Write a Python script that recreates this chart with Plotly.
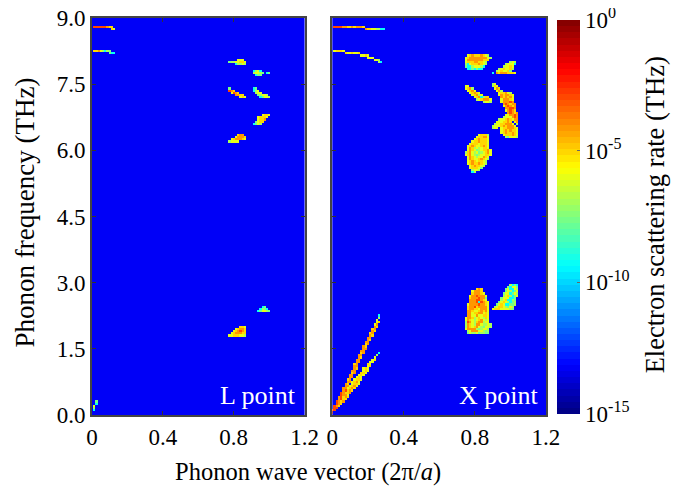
import numpy as np
import plotly.graph_objects as go

# log10 scattering rate levels used by the cell maps below
LEVELS = {"d": -0.5, "r": -2.9, "o": -4.1, "a": -5.0, "y": -5.9, "l": -6.9,
          "g": -7.7, "c": -9.3}
BACKGROUND = -13.3
Q_STEP = 0.0125
F_STEP = 0.05
TICKS_Q = [0, 0.4, 0.8, 1.2]
TICKS_Q_TEXT = ["0", "0.4", "0.8", "1.2"]
TICKS_F = [0, 1.5, 3, 4.5, 6, 7.5, 9]
TICKS_F_TEXT = ["0.0", "1.5", "3.0", "4.5", "6.0", "7.5", "9.0"]
CB_TICKS = [-15, -10, -5, 0]
CB_TEXT = ["10<sup>-15</sup>", "10<sup>-10</sup>", "10<sup>-5</sup>", "10<sup>0</sup>"]

# (first q cell, top f cell, rows of cells from top to bottom)
L_SPOTS = [
    (1, 176, ["rrrrrroaa"]), (9, 175, ["ay"]),
    (1, 165, ["aaoylclg"]), (8, 164, ["gcc"]),
    (62, 161, ["    yyy", "gllyyaay", "   cllyl"]),
    (73, 156, ["clyc", "lyylg cg", " cgg"]),
    (62, 148, ["g", "roa", " yroa", "   ooaa", "     yay"]),
    (73, 148, ["cg", "cly", " lyy", "  glyyl", "   cgyyl"]),
    (73, 136, ["    yaay", "  yaaay", "  yaao", " gyaa", "cgyl"]),
    (62, 127, ["    aoo", "   yoooa", " yaoooay", "lyyyy"]),
    (62, 40, ["     aay", "   yaooa", "  yaoroa", " yaoooaa", "yyaaayyl"]),
    (75, 49, ["  cg", " clgc", "cgyylg"]),
    (1, 6, [" g", " c", "y", "l", "c"]),
]
X_SPOTS = [
    (1, 176, ["rrrrooaaoaoooa"]), (15, 175, ["oaayyllcc"]),
    (1, 165, ["yaaay"]), (6, 164, ["ayyayya"]), (13, 163, ["yyay"]),
    (16, 162, ["yyy"]), (19, 161, ["yyl"]), (21, 160, ["lc"]),
    (60, 163, [" yaoaaaoayl", "yaooooooooyl", "yoooooooaaa", "yaaaooaayl",
               "lcyaaaoayl", "gcclyyylc", " ccgcgcc"]),
    (72, 160, ["        lyl", "      lyyyc", "     lyyay", "   lyayyal",
               "  lyayyag", "c oaoooaaay"]),
    (60, 149, ["yy", "yaol", " yaoy", "  yaoay", "   yaoly", "    yaoclaa",
               "     lyaoooy", "        lyyl"]),
    (72, 136, ["      yl", "     lyyo", "   lyyaoa", "  yyyaaoa", " lyyaaoooy",
               "lyyyaoaoooy", "lyy yaaoooay", "    yaoaoaay", "    yaoaaoay",
               "     yaaaoay", "      lgyyyl"]),
    (71, 150, [" ly", " lay", "  yoa", "   yol", "    yaaoyl", "    yoaooay",
               "     oaoaoy", "     yoooay", "     yoooro", "      oroaoo",
               "      yoroao", "       oorro", "       yoroa", "        oroao",
               "        yooro", "         yoro", "          yoo", "           yo",
               "            l"]),
    (60, 127, ["      yaaal", "     yaaooy", "    yaoaaay", "   yaaoaaay",
               "  yaaayaaay", " yaoayyaoay", " yoalylyaay", " yoayglyaaoy",
               "laoylyglyaoy", "yaoylglyyaay", " yoaylyyoay", " yoayyaoayl",
               " yaoayaayl", " yaoaaoayl", "  yaoaayl", "  yaaayg", "   lyyl",
               "   cl"]),
    (60, 57, ["     aoa", "   yoooa", "   aoooay", "  yooroooy", "  aoooroog",
              "  ooorroay", "  ooorcroay", " yoooorooay", " aooraooooy",
              " aooaayoooy", " ooayyaoaoy", " ooyaaooyay", " ooyyoyyaay",
              "yooalyaylay", "yoaylyaoyly", "lroylaoolyy", "loaylooyllyl",
              "loayaoylgyyl", "yoooolglyyl", " lyoooyylgl", " gyllygllgg"]),
    (72, 59, ["        lcgc", "       gcyyg", "      gyccyl", "      gylcgy",
              "     gyycgyl", "     lyalcgy", "    gyyyccg", "    lyacclg",
              "   gyaylcgl", "  gyayccggl", " lyaaylgyl", "yaaayyyylg"]),
]
# acoustic branches at the X point: one entry per f cell, from f cell 1 upward
X_LOWER_START = [0, 1, 2, 2, 3, 4, 4, 5, 5, 6, 6, 7, 8, 9, 9, 10, 11, 12, 13, 14, 14,
                 16, 16, 17, 18, 19, 20, 21]
X_LOWER_CELLS = ["o", "o", "o", "oa", "oa", "ao", "oaa", "aoa", "aoy", "aao", "yaoa",
                 "yaoa", "yaoy", "yaay", "yaoy", "yaay", "yay", "yay", "aay", "yay",
                 "yay", "ya", "ay", "yy", "ya", "y", "l", "c"]
X_UPPER_START = [0, 0, 1, 1, 2, 2, 3, 3, 4, 4, 5, 5, 6, 6, 7, 7, 8, 8, 9, 9, 10, 10, 10,
                 11, 11, 12, 12, 13, 13, 14, 14, 15, 15, 16, 16, 17, 17, 18, 18, 19, 19,
                 20, 20, 21, 21]
X_UPPER_CELLS = ["d", "rr", "rr", "ro", "ro", "ro", "or", "or", "ro", "ro", "or", "oo",
                 "oo", "oa", "oo", "ao", "oo", "oo", "ao", "oo", "oa", "oo", "ao", "oo",
                 "oo", "oa", "oo", "ao", "oo", "oo", "oa", "ao", "oo", "oa", "oo", "oa",
                 "ao", "oa", "ao", "oa", "yo", "ya", "y", "l", "c"]

q_axis = np.arange(97) * Q_STEP
f_axis = np.arange(181) * F_STEP


def stamp(z, col, row, cells):
    for k, ch in enumerate(cells):
        if ch != " ":
            z[row, col + k] = LEVELS[ch]


def build(spots):
    z = np.full((181, 97), BACKGROUND)
    for col, top, rows in spots:
        for k, cells in enumerate(rows):
            stamp(z, col, top - k, cells)
    return z


z_l = build(L_SPOTS)
z_x = build(X_SPOTS)
for j, (s, c) in enumerate(zip(X_LOWER_START, X_LOWER_CELLS)):
    stamp(z_x, s, j + 1, c)
for j, (s, c) in enumerate(zip(X_UPPER_START, X_UPPER_CELLS)):
    stamp(z_x, s, j + 1, c)


def jet(t):
    return (np.clip(1.5 - abs(4 * t - 3), 0, 1),
            np.clip(1.5 - abs(4 * t - 2), 0, 1),
            np.clip(1.5 - abs(4 * t - 1), 0, 1))


N = 64
scale = []
for i in range(N):
    r, g, b = jet((i + 0.5) / N)
    col = f"rgb({int(r*255)},{int(g*255)},{int(b*255)})"
    scale += [[i / N, col], [(i + 1) / N, col]]

FONT = "Liberation Serif"
# the page body adds an 8 px margin, so the figure is 8 px smaller on each axis
PAGE = 8
W, H = 680 - PAGE, 489 - PAGE
# plot area in window pixels: the two panels fill it exactly
L, R, T, B = 92.3, 545.7, 17.7, 415.5
PW, PH = R - L, B - T


def px(x):
    return (x - L) / PW


def py(y):
    return (B - y) / PH


fig = go.Figure()
for z, ax in ((z_l, "1"), (z_x, "2")):
    fig.add_trace(go.Heatmap(x=q_axis, y=f_axis, z=z, coloraxis="coloraxis",
                             xaxis="x" + ax, yaxis="y" + ax))

axis_common = dict(showline=True, mirror="ticks", linecolor="#444444", linewidth=2,
                   ticks="inside", ticklen=4, tickwidth=1, tickcolor="#333333",
                   showgrid=False, zeroline=False, layer="above traces", automargin=False,
                   ticklabeloverflow="allow",
                   tickfont=dict(family=FONT, size=23, color="black"))


def text(s, x, y, size, color="black", angle=0, xanchor="center"):
    return dict(text=s, xref="paper", yref="paper", x=px(x), y=py(y), xanchor=xanchor,
                yanchor="middle", showarrow=False, textangle=angle,
                font=dict(family=FONT, size=size, color=color))


fig.update_layout(
    width=W, height=H,
    margin=dict(l=L - PAGE, r=W + PAGE - R, t=T - PAGE, b=H + PAGE - B, pad=0, autoexpand=False),
    paper_bgcolor="white", plot_bgcolor="white", showlegend=False,
    font=dict(family=FONT, color="black"),
    xaxis=dict(domain=[0, px(304.6)], range=[0, 1.2], tickvals=TICKS_Q,
               ticktext=TICKS_Q_TEXT, **axis_common),
    xaxis2=dict(domain=[px(332.3), 1], range=[0, 1.2], tickvals=TICKS_Q,
                ticktext=TICKS_Q_TEXT, anchor="y2", **axis_common),
    yaxis=dict(domain=[0, 1], range=[0, 9], tickvals=TICKS_F, ticktext=TICKS_F_TEXT,
               **axis_common),
    yaxis2=dict(domain=[0, 1], range=[0, 9], tickvals=TICKS_F, showticklabels=False,
                anchor="x2", **axis_common),
    coloraxis=dict(
        cmin=-15, cmax=0, colorscale=scale,
        colorbar=dict(
            x=px(557), xanchor="left", xpad=0, ypad=0, thickness=23, thicknessmode="pixels",
            y=py(414), yanchor="bottom", len=395 / PH, lenmode="fraction",
            outlinewidth=0, tickvals=CB_TICKS, ticktext=CB_TEXT, ticks="inside",
            ticklen=3, tickcolor="#666666", ticklabeloverflow="allow",
            tickfont=dict(family=FONT, size=23, color="black"))),
    annotations=[
        text("Phonon wave vector (2π/<i>a</i>)", 308, 473, 24.5),
        text("Phonon frequency (THz)", 25, 213, 27, angle=-90),
        text("Electron scattering rate (THz)", 654, 215, 26.5, angle=-90),
        text("L point", 298.5, 396, 26, "white", xanchor="right"),
        text("X point", 540.5, 396, 26, "white", xanchor="right"),
    ],
)
fig.write_html("out.html")
